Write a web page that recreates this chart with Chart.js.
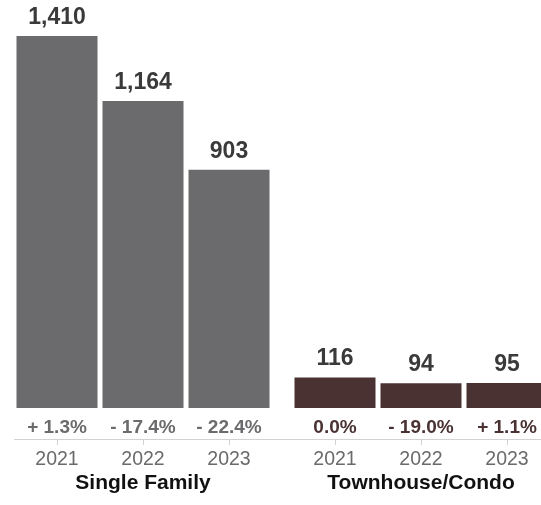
<!DOCTYPE html>
<html>
<head>
<meta charset="utf-8">
<script src="https://cdn.jsdelivr.net/npm/chart.js@4/dist/chart.umd.min.js"></script>
<style>
  html, body { margin: 0; padding: 0; background: #fff; overflow: hidden; }
  #wrap { position: relative; width: 541px; height: 505px; overflow: hidden; }
  canvas { position: absolute; top: 0; }
  #chartSingle { left: 0; }
  #chartTown { left: 272px; }
</style>
</head>
<body>
<div id="wrap">
  <canvas id="chartSingle" width="272" height="505"></canvas>
  <canvas id="chartTown" width="288" height="505"></canvas>
</div>
<script>
// Sales by year, split by property type
const years        = ["2021", "2022", "2023"];
const groupNames   = ["Single Family", "Townhouse/Condo"];
const singleSales  = [1410, 1164, 903];
const townSales    = [116, 94, 95];
const singleChange = ["+ 1.3%", "- 17.4%", "- 22.4%"];
const townChange   = ["0.0%", "- 19.0%", "+ 1.1%"];

// Colours
const GREY   = "#6b6b6d";
const BROWN  = "#4a3233";
const LABEL  = "#3a3a3a";
const YEAR   = "#6a6a6a";
const AXIS   = "#d2d2d2";
const FONT   = "'Liberation Sans', Arial, Helvetica, sans-serif";

Chart.defaults.font.family = FONT;

// both panels share one value range so the bars compare directly
const yMax = Math.max(...singleSales, ...townSales);

// value above each bar
const valueLabels = {
  id: "valueLabels",
  afterDatasetsDraw(chart) {
    const ctx  = chart.ctx;
    const data = chart.data.datasets[0].data;
    ctx.save();
    ctx.font = `bold 23px ${FONT}`;
    ctx.fillStyle = LABEL;
    ctx.textAlign = "center";
    ctx.textBaseline = "alphabetic";
    chart.getDatasetMeta(0).data.forEach((bar, i) => {
      ctx.fillText(data[i].toLocaleString("en-US"), bar.x, bar.y - 12);
    });
    ctx.restore();
  }
};

// carries the year axis rule across the gap between the two panels
const axisBridge = {
  id: "axisBridge",
  afterDraw(chart, args, opts) {
    if (!opts.enabled) return;
    const s   = chart.scales.x;
    const ctx = chart.ctx;
    const y   = Math.floor(s.top) + 0.5;
    ctx.save();
    ctx.strokeStyle = AXIS;
    ctx.lineWidth = 1;
    ctx.beginPath();
    ctx.moveTo(0, y);
    ctx.lineTo(chart.chartArea.left, y);
    ctx.stroke();
    ctx.restore();
  }
};

function buildPanel(id, values, changes, title, barColor, changeColor, pad, bridge) {
  return new Chart(document.getElementById(id), {
    type: "bar",
    data: {
      labels: years,
      datasets: [{
        data: values,
        backgroundColor: barColor,
        borderWidth: 0,
        categoryPercentage: 1,
        barPercentage: 0.942,
      }]
    },
    options: {
      responsive: false,
      animation: false,
      layout: { padding: pad },
      plugins: {
        legend: { display: false },
        tooltip: { enabled: false },
        axisBridge: { enabled: bridge }
      },
      scales: {
        y: { display: false, min: 0, max: yMax },
        change: {
          type: "category",
          position: "bottom",
          labels: changes,
          weight: 0,
          grid: { display: false, drawTicks: false },
          border: { display: false },
          ticks: {
            color: changeColor, padding: 8, maxRotation: 0, autoSkip: false,
            font: { size: 19, weight: "bold" }
          },
          afterFit: s => { s.height = 31; }
        },
        x: {
          type: "category",
          position: "bottom",
          labels: years,
          weight: 1,
          grid: { drawOnChartArea: false, offset: false, color: AXIS, tickLength: 6 },
          border: { color: AXIS, width: 1 },
          ticks: { color: YEAR, padding: 3, maxRotation: 0, font: { size: 19.5 } },
          title: {
            display: true, text: title, color: "#111",
            font: { size: 21, weight: "bold" },
            padding: { top: 2, bottom: 4 }
          },
          afterFit: s => { s.height = 61; }
        }
      }
    },
    plugins: [valueLabels, axisBridge]
  });
}

buildPanel("chartSingle", singleSales, singleChange, groupNames[0], GREY, GREY,
  { left: 14, right: 0, top: 36, bottom: 5 }, false);
buildPanel("chartTown", townSales, townChange, groupNames[1], BROWN, BROWN,
  { left: 20, right: 10, top: 36, bottom: 5 }, true);
</script>
</body>
</html>
